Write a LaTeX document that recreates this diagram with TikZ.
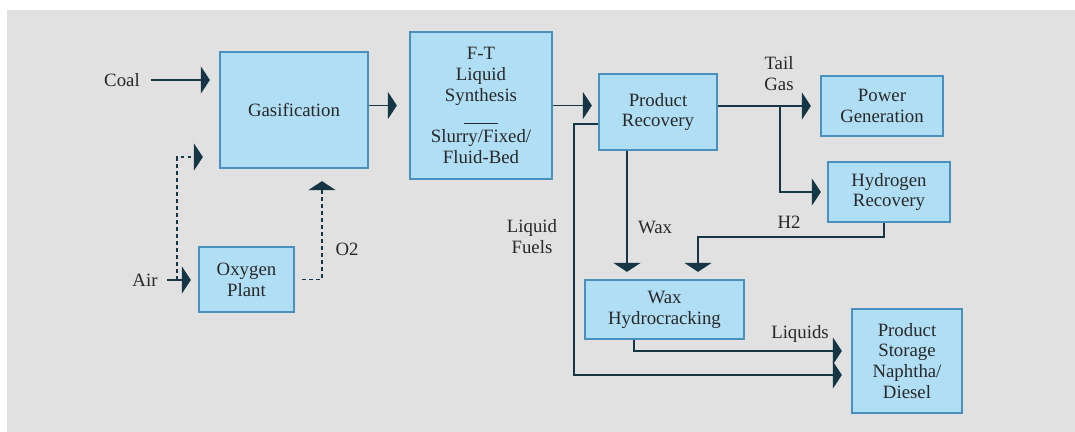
\documentclass[tikz,border=0pt]{standalone}
\usepackage{fontspec}
\setmainfont{Liberation Serif}
\usetikzlibrary{arrows.meta, calc}

\definecolor{boxfill}{RGB}{176,222,244}
\definecolor{boxline}{RGB}{74,144,190}
\definecolor{flowcol}{RGB}{22,54,70}
\definecolor{panelgray}{RGB}{225,225,225}
\definecolor{textcol}{RGB}{40,40,40}

\begin{document}
\begin{tikzpicture}[
            x=0.02cm, y=-0.02cm,
            every node/.style={font=\fontsize{10.7pt}{11.9pt}\selectfont, text=textcol},
            block/.style={rectangle, draw=boxline, line width=1.3pt, fill=boxfill, align=center, inner sep=2pt},
            flow_label/.style={align=center, inner sep=1pt},
            flow_arrow/.style={-{Triangle[length=0.18cm, width=0.54cm]}, line width=1.1pt, draw=flowcol},
            dashed_arrow/.style={flow_arrow, dash pattern=on 2.2pt off 1.8pt}
        ]

        \useasboundingbox (0,0) rectangle (1075,432);
        \fill[panelgray] (7,10) rectangle (1075,432);

        \node[block, minimum width=2.96cm, minimum height=2.32cm] (gasif) at (294,110) {Gasification};

        \node[block, minimum width=1.9cm, minimum height=1.3cm] (oxy_plant) at (246.5,279.5) {Oxygen\\Plant};

        \node[block, minimum width=2.84cm, minimum height=2.94cm] (ft_synth) at (481,105.5) {F-T\\Liquid\\Synthesis\\\rule[-1pt]{0.68cm}{0.5pt}\\Slurry/Fixed/\\Fluid-Bed};

        \node[block, minimum width=2.36cm, minimum height=1.52cm] (prod_rec) at (658,112) {Product\\Recovery};

        \node[block, minimum width=2.44cm, minimum height=1.2cm] (power_gen) at (882,106) {Power\\Generation};

        \node[block, minimum width=2.44cm, minimum height=1.2cm] (hydro_rec) at (889,192) {Hydrogen\\Recovery};

        \node[block, minimum width=3.18cm, minimum height=1.18cm] (wax_hc) at (664.5,309.5) {Wax\\Hydrocracking};

        \node[block, minimum width=2.2cm, minimum height=2.08cm] (prod_store) at (907,361) {Product\\Storage\\Naphtha/\\Diesel};

        \node (coal) at (122,80) {Coal};
        \node (air) at (145,280) {Air};

        \node[flow_label] (o2_label) at (347,249) {O2};
        \node[flow_label] (fuels_label) at (532,237) {Liquid\\Fuels};
        \node[flow_label] (wax_label) at (655,227) {Wax};
        \node[flow_label] (h2_label) at (789,222) {H2};
        \node[flow_label] (tail_label) at (779,73.5) {Tail\\Gas};
        \node[flow_label] (liquids_label) at (800,334) {Liquids};

        \coordinate (air_split) at (177,280);
        \coordinate (fuel_corner) at (574,375);
        \coordinate (h2_corner) at (698,237);
        \coordinate (tail_split) at ($(prod_rec.east |- power_gen.west)+(62,0)$);
        \coordinate (wax_out) at ($(prod_rec.south)+(-31,0)$);

        \draw[flow_arrow, shorten <=0.1cm, shorten >=0.18cm] (coal.east) -- (coal.east -| gasif.west);
        \draw[flow_arrow, shorten >=0.24cm] (gasif.east |- ft_synth.west) -- (ft_synth.west);
        \draw[flow_arrow, shorten >=0.12cm] (ft_synth.east) -- (ft_synth.east -| prod_rec.west);

        \draw[flow_arrow, shorten <=0.07cm, shorten >=0.14cm] (air.east) -- (air.east -| oxy_plant.west);
        \draw[dashed_arrow, shorten >=0.32cm] (air_split) |- ($(gasif.west)+(0,47)$);
        \draw[dashed_arrow, shorten <=0.14cm, shorten >=0.24cm] (oxy_plant.east) -| ($(gasif.south)+(28,0)$);

        \draw[flow_arrow, shorten >=0.18cm] ($(prod_rec.west)+(0,12)$) -| (fuel_corner) -- (fuel_corner -| prod_store.west);
        \draw[flow_arrow, shorten >=0.14cm] (wax_out) -- (wax_out |- wax_hc.north);
        \draw[flow_arrow, shorten >=0.14cm] ($(hydro_rec.south)+(-5,0)$) |- (h2_corner) -- (h2_corner |- wax_hc.north);

        \draw[flow_arrow, shorten >=0.18cm] (prod_rec.east |- power_gen.west) -- (power_gen.west);
        \draw[flow_arrow, shorten >=0.12cm] (tail_split) |- (hydro_rec.west);
        \draw[flow_arrow, shorten >=0.18cm] ($(wax_hc.south)+(-30.5,0)$) |- ($(prod_store.west)+(0,-10)$);

    \end{tikzpicture}
\end{document}
